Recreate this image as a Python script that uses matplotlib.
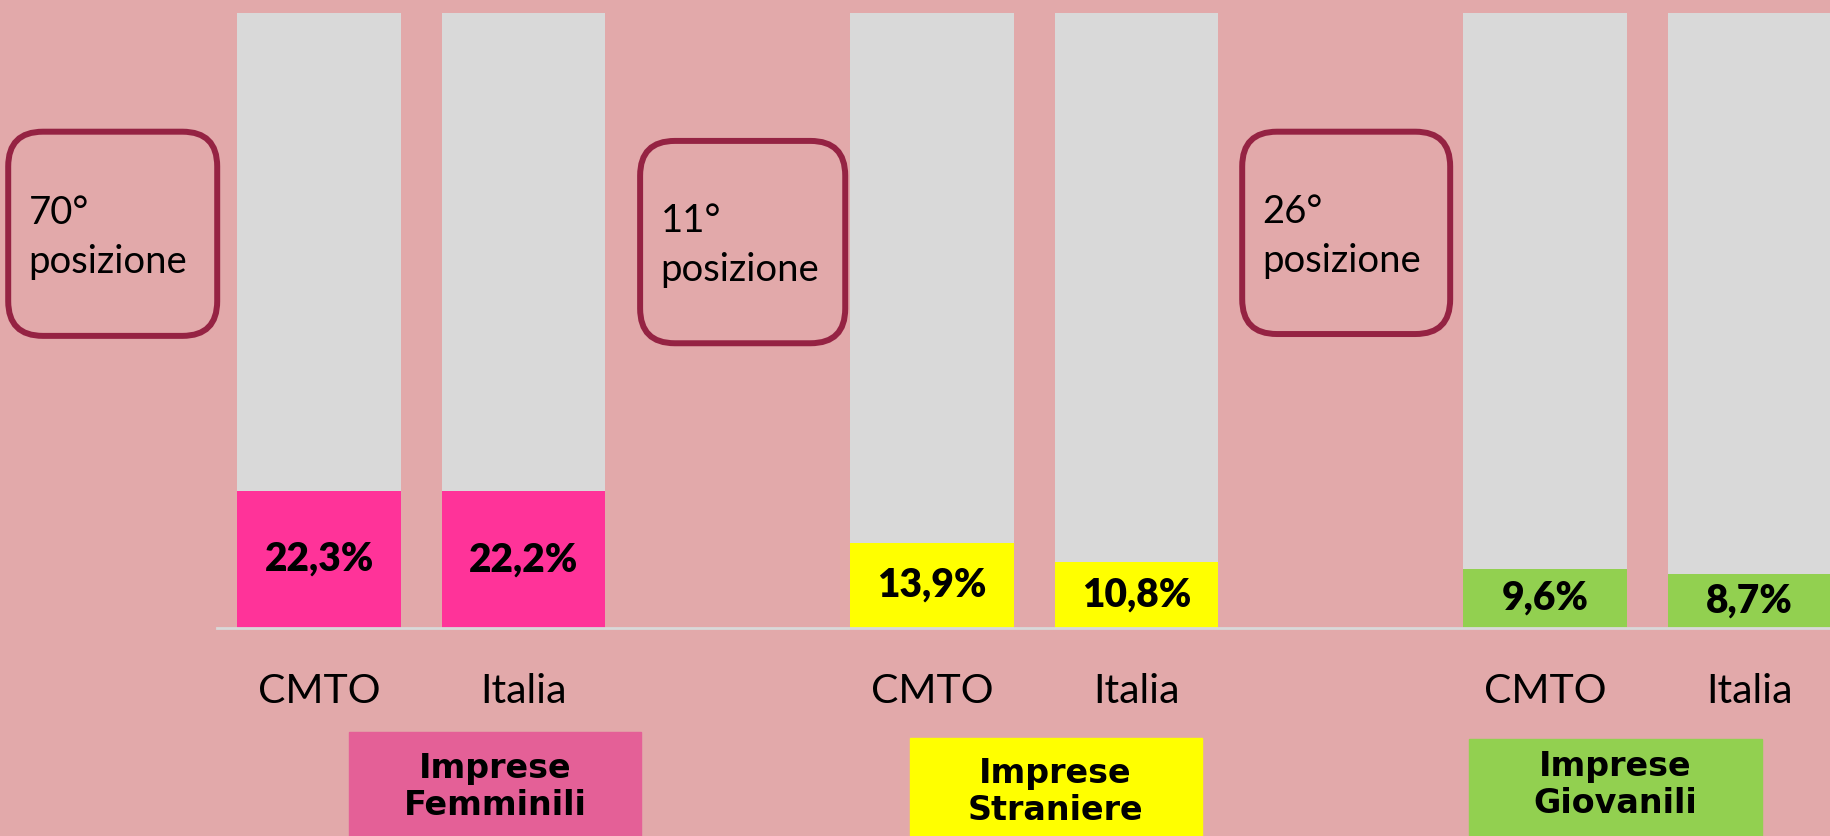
import matplotlib.pyplot as plt
from matplotlib.patches import FancyBboxPatch, Rectangle

# dati
groups = ['Imprese\nFemminili', 'Imprese\nStraniere', 'Imprese\nGiovanili']
areas = ['CMTO', 'Italia']
cmto_values = [22.3, 13.9, 9.6]
italia_values = [22.2, 10.8, 8.7]
rank_labels = ['70°\nposizione', '11°\nposizione', '26°\nposizione']

bar_colors = ['#FF3399', '#FFFF00', '#92D050']
box_colors = ['#E46097', '#FFFF00', '#92D050']
bg = '#E2A9AA'
grey = '#D9D9D9'
maroon = '#952343'

fig = plt.figure(figsize=(18.31, 8.36), dpi=100, facecolor=bg)
ax = fig.add_axes([217 / 1831, 1 - 628 / 836, 1 - 217 / 1831, 615 / 836])
ax.set_facecolor(bg)
ax.set_xlim(-0.5, 7.4)
ax.set_ylim(0, 100)

xs, vals, cols, labels = [], [], [], []
for g in range(len(groups)):
    for k, v in enumerate([cmto_values[g], italia_values[g]]):
        xs.append(3 * g + k)
        vals.append(v)
        cols.append(bar_colors[g])
        labels.append(areas[k])

# barre grigie di sfondo (100%) e barre colorate
ax.bar(xs, [100] * len(xs), width=0.8, color=grey, zorder=1)
ax.bar(xs, vals, width=0.8, color=cols, zorder=2)
for x, v in zip(xs, vals):
    ax.text(x, v / 2, f"{v:.1f}".replace('.', ',') + '%', ha='center', va='center',
            fontsize=28, fontweight='heavy', family='Lato', zorder=3)

ax.axhline(0, color=grey, lw=2, zorder=3, clip_on=False)
for s in ax.spines.values():
    s.set_visible(False)
ax.set_yticks([])
ax.set_xticks(xs, labels, fontsize=29.5, family='Lato')
ax.tick_params(axis='x', length=0, pad=32.5)

# riquadri con il nome del gruppo
box_x = [0.147, 2.89, 5.63]
box_top = [-16.9, -17.9, -18.0]
text_y = [-25.8, -26.7, -25.5]
for g in range(len(groups)):
    ax.add_patch(Rectangle((box_x[g], box_top[g]), 1.43, -30, color=box_colors[g],
                           clip_on=False, zorder=2))
    ax.text(box_x[g] + 0.715, text_y[g], groups[g], ha='center', va='center',
            fontsize=24, fontweight='bold', family='DejaVu Sans', linespacing=1.15,
            zorder=3)

# riquadri arrotondati con la posizione
fig.canvas.draw()
p0 = ax.transData.transform((0, 0))
p1 = ax.transData.transform((1, 1))
aspect = (p1[0] - p0[0]) / (p1[1] - p0[1])
rank_boxes = [(-1.522, 47.5, 1.023, 33.2), (1.571, 46.3, 1.004, 32.9), (4.518, 47.8, 1.018, 32.9)]
for (x0, y0, w, h), txt in zip(rank_boxes, rank_labels):
    ax.add_patch(FancyBboxPatch((x0, y0), w, h,
                                boxstyle='round,pad=0,rounding_size=0.17',
                                mutation_aspect=aspect, facecolor='none',
                                edgecolor=maroon, lw=4.3, clip_on=False, zorder=4))
    ax.text(x0 + 0.1, y0 + h / 2 - 0.6, txt, ha='left', va='center', fontsize=27.5,
            family='Lato', linespacing=1.45, zorder=4)

fig.savefig('out.png', dpi=100, facecolor=bg)
